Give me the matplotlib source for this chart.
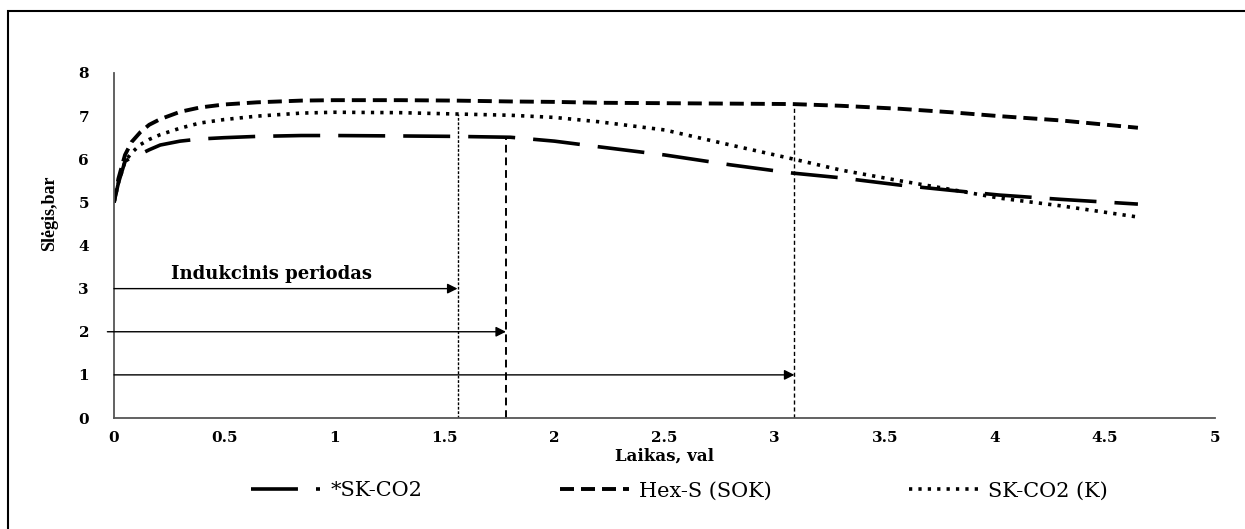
import matplotlib
matplotlib.use("Agg")
import matplotlib.pyplot as plt
from matplotlib.patches import Rectangle

# time axis (hours) and pressure (bar)
t = [0, 0.02, 0.05, 0.08, 0.12, 0.16, 0.21, 0.3, 0.39, 0.5, 0.65, 0.85, 1.0,
     1.3, 1.55, 1.8, 2.0, 2.2, 2.5, 2.8, 3.08, 3.3, 3.57, 3.8, 4.02, 4.3, 4.65]
sk_co2 = [5.0, 5.45, 5.95, 6.05, 6.12, 6.22, 6.33, 6.42, 6.47, 6.5, 6.53, 6.55, 6.55,
          6.54, 6.53, 6.51, 6.42, 6.29, 6.1, 5.87, 5.68, 5.57, 5.4, 5.28, 5.17, 5.07, 4.96]
hex_s = [5.0, 5.55, 6.1, 6.4, 6.63, 6.8, 6.93, 7.1, 7.2, 7.27, 7.32, 7.36, 7.37,
         7.37, 7.36, 7.34, 7.33, 7.31, 7.3, 7.29, 7.28, 7.24, 7.17, 7.09, 7.0, 6.9, 6.73]
sk_co2_k = [5.0, 5.45, 5.95, 6.15, 6.34, 6.46, 6.57, 6.72, 6.84, 6.92, 7.0, 7.07, 7.09,
            7.08, 7.05, 7.02, 6.97, 6.87, 6.68, 6.33, 6.01, 5.75, 5.5, 5.3, 5.1, 4.92, 4.66]

labels = ["*SK-CO2", "Hex-S (SOK)", "SK-CO2 (K)"]

# induction periods: end time, arrow level, top of the vertical marker
ind_end = [1.56, 1.78, 3.09]
ind_level = [3, 2, 1]
ind_top = [7.05, 6.51, 7.28]

SERIF = "DejaVu Serif"

fig = plt.figure(figsize=(12.45, 5.29), dpi=100)
ax = fig.add_axes([114 / 1245, 111 / 529, (1215 - 114) / 1245, (418 - 73) / 529])

ax.plot(t, sk_co2, color="black", lw=2.6, dashes=[13, 5], label=labels[0])
ax.plot(t, hex_s, color="black", lw=2.8, dashes=[3.6, 1.8], label=labels[1])
ax.plot(t, sk_co2_k, color="black", lw=2.6, dashes=[0.9, 1.7], label=labels[2])

# vertical markers
ax.plot([ind_end[0], ind_end[0]], [0, ind_top[0]], color="black", lw=1.0, dashes=[2, 1.2])
ax.plot([ind_end[1], ind_end[1]], [0, ind_top[1]], color="black", lw=1.4, dashes=[4, 2.5])
ax.plot([ind_end[2], ind_end[2]], [0, ind_top[2]], color="black", lw=1.0, dashes=[3, 2])

# arrows
starts = [0, -0.03, 0]
for x0, x1, y in zip(starts, ind_end, ind_level):
    ax.annotate("", xy=(x1, y), xytext=(x0, y),
                arrowprops=dict(arrowstyle="-|>", color="black", lw=1.0,
                                mutation_scale=15, shrinkA=0, shrinkB=0),
                annotation_clip=False)

ax.text(0.26, 3.33, "Indukcinis periodas", fontsize=13, fontweight="bold",
        family=SERIF, va="center", ha="left")

ax.set_xlim(0, 5)
ax.set_ylim(0, 8)
ax.set_xticks([0, 0.5, 1, 1.5, 2, 2.5, 3, 3.5, 4, 4.5, 5])
ax.set_xticklabels(["0", "0.5", "1", "1.5", "2", "2.5", "3", "3.5", "4", "4.5", "5"])
ax.set_yticks(range(0, 9))
for lab in ax.get_xticklabels() + ax.get_yticklabels():
    lab.set_family(SERIF)
    lab.set_fontweight("bold")
    lab.set_fontsize(11)
ax.tick_params(axis="x", length=0, pad=9)
ax.tick_params(axis="y", length=0, pad=18)

for s in ["top", "right"]:
    ax.spines[s].set_visible(False)
for s in ["left", "bottom"]:
    ax.spines[s].set_color("#555555")
    ax.spines[s].set_linewidth(1.3)

ax.set_xlabel("Laikas, val", fontsize=12, fontweight="bold", family=SERIF, labelpad=2)
fig.text(50 / 1245, 1 - 213 / 529, "Slėgis,bar", rotation=90, fontsize=13,
         fontweight="bold", family="Liberation Serif", ha="center", va="center")

fig.legend(loc="center", bbox_to_anchor=(0.546, 38 / 529), ncol=3, frameon=False,
           prop={"family": SERIF, "size": 15}, handlelength=3.3,
           handletextpad=0.5, columnspacing=6.6)

# outer frame (clipped at the right and bottom)
fig.patches.append(Rectangle((8 / 1245, -0.05), 1.1, 1 - 11 / 529 + 0.05,
                             transform=fig.transFigure, fill=False,
                             edgecolor="black", lw=1.5))

fig.savefig("out.png", dpi=100)
